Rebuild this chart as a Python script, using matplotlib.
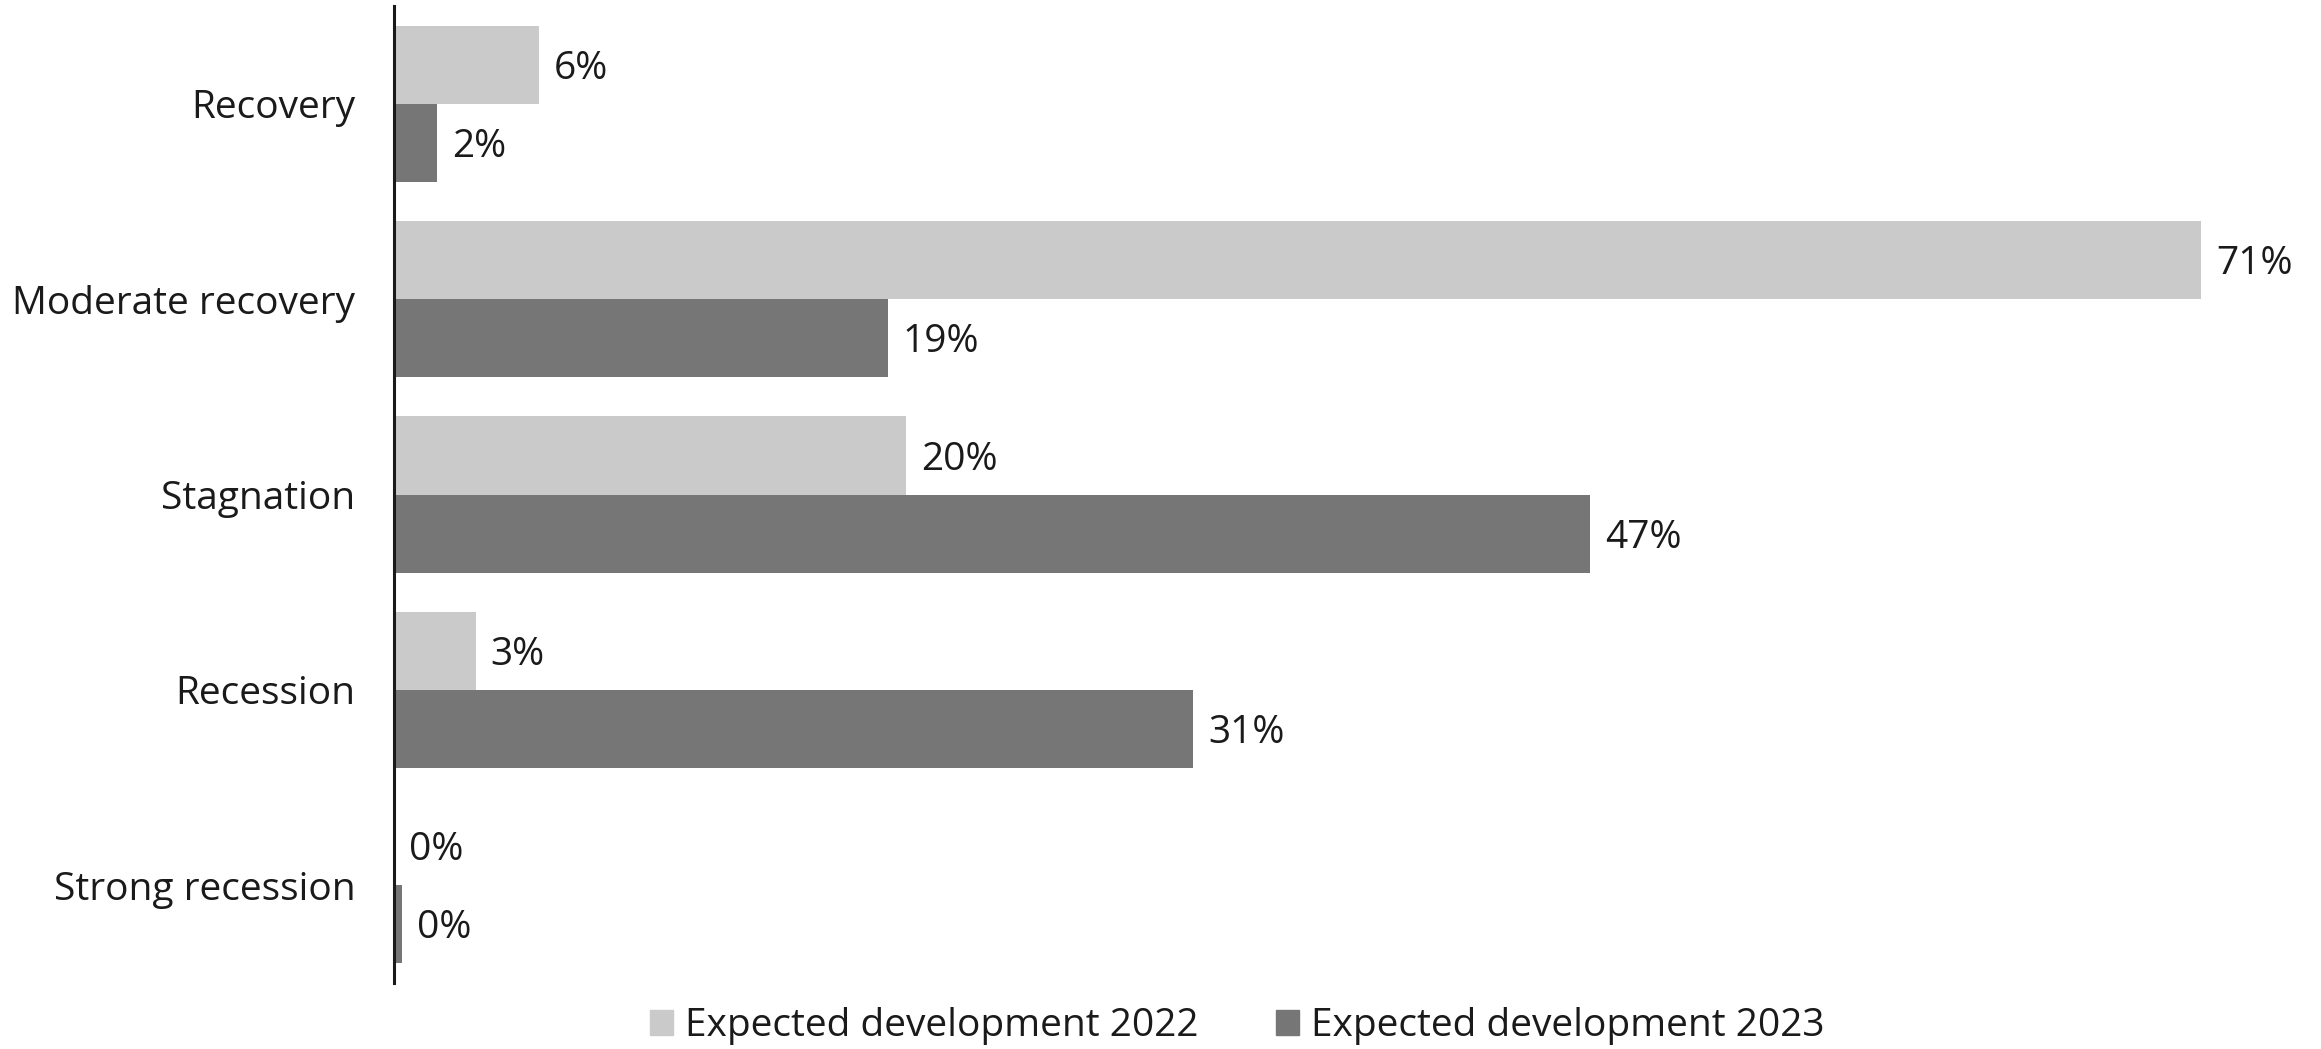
import matplotlib.pyplot as plt
import numpy as np
from matplotlib.patches import Patch

plt.rcParams['font.family'] = ['Open Sans', 'DejaVu Sans']

categories = ['Recovery', 'Moderate recovery', 'Stagnation', 'Recession', 'Strong recession']
expected_2022 = [5.7, 71.0, 20.1, 3.2, 0.0]
expected_2023 = [1.7, 19.4, 47.0, 31.4, 0.3]
series_names = ['Expected development 2022', 'Expected development 2023']
light = '#cacaca'
dark = '#767676'

fig = plt.figure(figsize=(23.21, 10.49), dpi=100)
ax = fig.add_axes([0.1698, 0.063, 0.8302, 0.931])

y = np.arange(len(categories))
h = 0.4
b1 = ax.barh(y - h / 2, expected_2022, height=h, color=light)
b2 = ax.barh(y + h / 2, expected_2023, height=h, color=dark)

# value labels next to the bar ends
for bars, vals in [(b1, expected_2022), (b2, expected_2023)]:
    for bar, v in zip(bars, vals):
        ax.annotate('%.0f%%' % v, (v, bar.get_y() + bar.get_height() / 2),
                    xytext=(15, -4), textcoords='offset pixels',
                    va='center', ha='left', fontsize=28, color='#1a1a1a')

ax.set_ylim(len(categories) - 0.5, -0.5)
ax.set_xlim(0, 75.7)
ax.set_yticks(y)
ax.set_yticklabels(categories, fontsize=28, color='#1a1a1a')
ax.tick_params(axis='y', length=0, pad=28)
ax.set_xticks([])
for s in ['top', 'right', 'bottom']:
    ax.spines[s].set_visible(False)
ax.spines['left'].set_linewidth(2.2)
ax.spines['left'].set_color('#1a1a1a')

handles = [Patch(color=light), Patch(color=dark)]
fig.legend(handles, series_names, loc='center', bbox_to_anchor=(0.533, 0.022),
           ncol=2, frameon=False, fontsize=28, handlelength=0.6, handleheight=0.6,
           handletextpad=0.3, columnspacing=2.0, labelcolor='#1a1a1a')

fig.savefig('out.png', dpi=100)
